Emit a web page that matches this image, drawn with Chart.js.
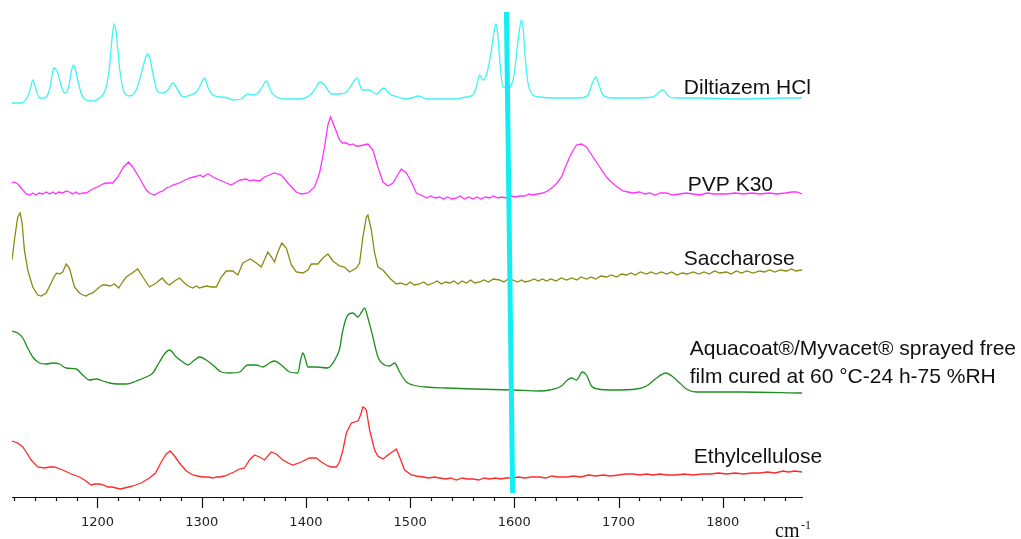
<!DOCTYPE html>
<html>
<head>
<meta charset="utf-8">
<script src="https://cdn.jsdelivr.net/npm/chart.js@4.4.1/dist/chart.umd.min.js"></script>
<style>
html, body { margin: 0; padding: 0; background: #fff; }
#wrap { position: relative; width: 1021px; height: 539px; }
</style>
</head>
<body>
<div id="wrap"><canvas id="spectra"></canvas></div>
<script>
// Stacked spectra, [wavenumber (cm-1), intensity (offset, a.u.)]
const seriesNames = ['Diltiazem HCl', 'PVP K30', 'Saccharose',
  ['Aquacoat\u00AE/Myvacet\u00AE sprayed free', 'film cured at 60 \u00B0C-24 h-75 %RH'], 'Ethylcellulose'];
const seriesColors = ['#3ff4f4', '#ff33ff', '#8a8a12', '#1e8e1e', '#ff2a2a'];
const noisy = [false, true, true, false, true];

const diltiazem = [[1118,394],[1126.8,394],[1132.8,400],[1136,410],[1137.9,417],[1139.5,413],[1141.2,407],[1144.3,399],[1149.1,399],[1153.9,407],[1156.5,422],[1158,429],[1160,428],[1161.9,424],[1165,412],[1168.3,404],[1172.4,410],[1175,426],[1177,432],[1179,427],[1181.1,417],[1184,405],[1187.5,398],[1194,396],[1201.9,399],[1208.4,410],[1211.5,430],[1213.2,450],[1215,468],[1216.3,473],[1218,464],[1219.5,448],[1221.1,430],[1225.9,404],[1230.7,401],[1237.2,407],[1242.9,427],[1246.5,440],[1248.3,443],[1250.5,438],[1253.1,424],[1257.9,405],[1262.7,404],[1267.5,407],[1272.3,414],[1277.1,407],[1281.9,400],[1286.7,401],[1294.8,405],[1297.9,410],[1302.7,419],[1305.9,410],[1310.7,402],[1318.8,400],[1325.1,399],[1329.9,397],[1338,398],[1344.3,403],[1349.1,402],[1353.9,404],[1358,410],[1362,416],[1366.8,405],[1371.6,400],[1381.2,398],[1393.9,398],[1405.2,403],[1410,410],[1413.1,415],[1417.9,412],[1424.4,403],[1432.3,403],[1438.8,405],[1445,414],[1448.9,419],[1454.1,407],[1460.4,407],[1467.6,403],[1474.8,409],[1480.3,403],[1488.3,400],[1496.4,398],[1501.2,399],[1508.4,401],[1515.6,398],[1528.3,398],[1541.1,398],[1554,400],[1560.3,402],[1563.6,410],[1566.7,422],[1569.9,417],[1573.2,422],[1576,435],[1578,447],[1580.5,465],[1582.1,473],[1583.8,465],[1585.2,447],[1587,425],[1589.1,410],[1593.9,409],[1598.7,417],[1601,432],[1602.5,447],[1605,468],[1606.8,477],[1608.5,468],[1609.9,447],[1611.5,428],[1613.1,414],[1617.9,402],[1624.3,400],[1637.1,399],[1662.7,399],[1670.7,402],[1674.9,414],[1678.1,420],[1681.2,412],[1685.1,402],[1694.7,399],[1713.9,399],[1733.1,400],[1738,404],[1742.1,407],[1749.1,400],[1755.6,399],[1778,399],[1816.3,398],[1854.7,399],[1876,399]];

const pvp = [[1118,314],[1120.3,315],[1123.5,313],[1126.8,309],[1131.6,303],[1135,302],[1137.9,304],[1141,302],[1144,304],[1147.5,303],[1151,305],[1154,303],[1157.1,305],[1160,303],[1163,305],[1166.7,304],[1170,306],[1173.1,305],[1176,303],[1179,305],[1182.7,303],[1186,304],[1189.2,304],[1195.5,308],[1201.9,311],[1205,313],[1208.4,314],[1214.7,314],[1219.5,320],[1225,330],[1229.8,335],[1233.9,330],[1240.3,319],[1246.8,307],[1250,304],[1254.7,302],[1259.5,305],[1263,306],[1266,309],[1269,310],[1272.3,312],[1276,313],[1280.4,315],[1284,317],[1288.3,319],[1292,320],[1296.3,321],[1298.5,322],[1301.1,320],[1305.9,323],[1308,322],[1310.7,320],[1317.1,317],[1323.6,314],[1328.4,312],[1333.2,315],[1337,317],[1342.8,318],[1346,316],[1349.1,317],[1355.5,316],[1360.3,320],[1365,322],[1369.9,324],[1373,323],[1376.4,322],[1382.7,314],[1390.8,305],[1395.6,303],[1401.9,304],[1408.3,310],[1413.1,324],[1417.9,350],[1421.1,372],[1423.7,380],[1427.5,370],[1432.3,357],[1435,354],[1438.8,354],[1442,352],[1445.1,353],[1448,351],[1451.5,351],[1455,352],[1459.5,353],[1464.3,347],[1469.1,330],[1473.9,315],[1478.7,311],[1483.5,314],[1488,322],[1491.6,328],[1496.4,324],[1501.2,315],[1506,304],[1512.3,301],[1516,299],[1520,301],[1524,299],[1528.3,300],[1532,298],[1536,300],[1540,298],[1544.4,299],[1548,301],[1552,298],[1556,300],[1560.3,298],[1564,300],[1568,298],[1572,300],[1576.3,299],[1580,301],[1584,299],[1588,300],[1592.4,299],[1597,301],[1601,300],[1605.1,301],[1610,301],[1614,303],[1617.9,302],[1622,303],[1627.5,304],[1632,306],[1637.1,310],[1641,314],[1645.2,320],[1649,330],[1653.1,340],[1656.5,347],[1659.6,352],[1664.4,353],[1669.2,350],[1675.5,340],[1681.9,330],[1688.4,320],[1692,316],[1696.3,312],[1700,309],[1704.3,306],[1709,305],[1713.9,304],[1720,305],[1725,303],[1729.9,304],[1735,302],[1740,304],[1745.9,304],[1752,302],[1758.7,303],[1765,304],[1771.5,303],[1778,302],[1785,304],[1792,303],[1803.5,303],[1812,304],[1820,303],[1828,304],[1835.5,303],[1845,304],[1852,303],[1860,304],[1866,305],[1870.8,305],[1876,303]];

const saccharose = [[1118,237],[1120.3,257],[1123.5,280],[1125.8,284],[1127.7,274],[1129.9,247],[1133.1,227],[1137.9,210],[1142.7,202],[1146,201],[1150.8,204],[1155.6,214],[1158.7,221],[1161,224],[1163.5,223],[1166.7,225],[1170,233],[1173.1,229],[1177.9,210],[1182.7,204],[1186,202],[1189.2,201],[1192,203],[1195.5,204],[1201.9,210],[1205,212],[1208.4,212],[1212,211],[1216.3,213],[1220.4,209],[1224,215],[1227.6,220],[1233.3,224],[1238.7,228],[1243.5,220],[1249.9,210],[1256.4,214],[1262.1,219],[1266,214],[1269.1,212],[1273.9,216],[1278.7,219],[1283.5,214],[1287,211],[1291.5,209],[1295,211],[1298,209],[1301.1,210],[1305,211],[1309.2,210],[1314,210],[1318.8,220],[1323.6,226],[1329.9,226],[1334.7,222],[1339.5,234],[1343,236],[1346.6,238],[1352.4,234],[1357.2,230],[1363.5,245],[1367.7,239],[1369.9,235],[1373.1,245],[1376.9,254],[1381.2,249],[1386,232],[1390.8,225],[1397.1,224],[1401.9,227],[1405.2,233],[1411.5,233],[1416.3,239],[1421.1,243],[1425.9,236],[1432.3,231],[1437.1,230],[1441.9,225],[1448.4,229],[1451.5,234],[1454.7,260],[1458,280],[1459.5,282],[1462.8,267],[1465.9,244],[1469.1,230],[1473.9,227],[1480.3,219],[1486.8,213],[1491,214],[1496.4,212],[1500,215],[1504,212],[1509.1,213],[1513,215],[1517,212],[1521.9,214],[1526,216],[1530,213],[1534,215],[1537.9,214],[1542,216],[1546,213],[1550,216],[1554,214],[1558,217],[1562,214],[1566.7,215],[1571,217],[1575,215],[1580,218],[1585.9,217],[1590,215],[1594,218],[1598.7,217],[1603,215],[1607,217],[1610,215],[1614.7,216],[1619,218],[1623,216],[1627,218],[1630.8,216],[1635,218],[1640,216],[1645,219],[1650,217],[1655,219],[1660,217],[1664,220],[1669.2,218],[1674,220],[1678,218],[1683,221],[1688.4,220],[1693,222],[1698,220],[1703,223],[1707.6,222],[1712,224],[1716,222],[1721,225],[1726.8,223],[1731,225],[1736,223],[1741,225],[1746,223],[1751,225],[1756,222],[1761,224],[1766,223],[1771.5,225],[1777,223],[1782,225],[1787,223],[1792,226],[1797,224],[1803.5,225],[1808,223],[1813,226],[1818,224],[1823,226],[1829,224],[1835.5,226],[1840,225],[1845,227],[1850,225],[1855,227],[1861.2,226],[1866,228],[1870,226],[1876,227]];

const aquacoat = [[1118,166],[1123.5,164],[1128.3,159],[1133.1,149],[1137.9,140],[1144.3,134],[1150.8,133],[1157.1,134],[1163.5,133],[1170,129],[1179.6,128],[1185.9,122],[1192.3,117],[1198.8,118],[1205.1,116],[1211.5,114],[1219.5,113],[1227.6,113],[1237.2,116],[1246.8,120],[1253.1,124],[1259.5,135],[1265,144],[1269.1,147],[1275.6,140],[1281.9,135],[1286.7,132],[1293.1,137],[1297.9,140],[1304.4,137],[1310.7,132],[1318.8,125],[1326.7,124],[1336.3,125],[1344.3,132],[1352.4,132],[1358.7,130],[1365.1,134],[1369.9,136],[1376.4,132],[1384.3,125],[1392.3,124],[1394.9,137],[1397.1,144],[1399.7,137],[1401.9,130],[1409.9,130],[1421.1,129],[1425.9,134],[1429.2,140],[1432.3,148],[1435.5,167],[1440.3,182],[1445.1,184],[1449.9,180],[1453.5,185],[1456.3,189],[1459.5,179],[1464.3,160],[1469.1,140],[1475.5,132],[1480.3,131],[1485.1,134],[1489.9,125],[1496.4,115],[1502.7,112],[1515.6,110],[1534.8,109],[1560.3,108],[1598.7,107],[1624.3,106],[1633.9,107],[1645.2,111],[1650,116],[1654.8,119],[1659.6,117],[1665.3,125],[1669.2,122],[1674,111],[1680.3,108],[1694.7,107],[1717.1,108],[1726.8,111],[1736.4,119],[1745.3,124],[1752.3,120],[1758.7,114],[1765.1,108],[1774.7,105],[1816.3,105],[1876,104]];

const ethylcellulose = [[1118,56],[1123.5,54],[1128.3,50],[1131.6,45],[1136.4,37],[1142.7,30],[1149.1,29],[1154,30],[1158.7,30],[1166.7,27],[1174.8,23],[1182.7,20],[1187.5,17],[1194,12],[1198,13],[1201.9,13],[1206,12],[1209.9,10],[1214,10],[1217.9,9],[1222,8],[1225.9,9],[1230,10],[1233.9,11],[1241.9,14],[1249.9,19],[1255.7,24],[1261.2,35],[1266,43],[1269.8,46],[1273.9,41],[1278.7,34],[1285.2,26],[1291.5,22],[1296,21],[1301.1,20],[1306,20],[1310.7,19],[1314,20],[1317.1,20],[1322,21],[1326.7,23],[1331,25],[1336.3,28],[1341.1,29],[1345.9,37],[1350.7,42],[1355.5,40],[1360.3,37],[1366.8,45],[1371.6,43],[1377.9,37],[1383,34],[1387.5,32],[1395.6,35],[1403.5,39],[1409.9,39],[1414.8,35],[1421.1,31],[1425,30],[1429.2,30],[1432.3,35],[1435.5,47],[1438.8,64],[1443.6,74],[1449.9,76],[1452.5,82],[1454.7,90],[1456.5,89],[1458,87],[1461.1,67],[1465.9,47],[1469,41],[1473.9,38],[1478.7,42],[1486.8,48],[1489.9,40],[1494.7,27],[1501.2,22],[1506,21],[1512.3,20],[1518,19],[1523,20],[1528.3,19],[1534,18],[1539,19],[1544.4,17],[1550,19],[1555,18],[1560.3,18],[1566,17],[1571,19],[1576.3,18],[1582,19],[1587,18],[1592,19],[1598.7,19],[1604,20],[1610,19],[1616,20],[1624.3,20],[1630,19],[1636,21],[1642,20],[1650,20],[1657,21],[1664,20],[1671,22],[1678,21],[1685.1,22],[1692,21],[1700,22],[1707,23],[1713.9,23],[1720,22],[1727,23],[1733,22],[1739.5,23],[1747,22],[1755,22],[1763,23],[1771.5,22],[1780,23],[1788,23],[1796,24],[1803.5,23],[1812,24],[1820,23],[1828,24],[1835.5,24],[1843,25],[1850,24],[1857.9,26],[1863,25],[1869,26],[1876,25]];

// slanted marker line near 1600 cm-1
const marker = [[1592.4,485],[1598.4,4]];

const spectra = [diltiazem, pvp, saccharose, aquacoat, ethylcellulose];
const toXY = arr => arr.map(p => ({ x: p[0], y: p[1] }));

const datasets = spectra.map((s, i) => {
    const ds = {
        label: Array.isArray(seriesNames[i]) ? seriesNames[i].join(' ') : seriesNames[i],
        data: toXY(s),
        borderColor: seriesColors[i],
        borderWidth: 1.3,
        pointRadius: 0,
        tension: 0,
        order: 1
    };
    if (!noisy[i]) ds.cubicInterpolationMode = 'monotone'; // smooth peaks
    return ds;
});
datasets.unshift({
    label: 'marker',
    data: toXY(marker),
    borderColor: '#12eef2',
    borderWidth: 5,
    pointRadius: 0,
    order: -1
});

// minor/major tick marks, series names, axis unit
const decorPlugin = {
    id: 'decor',
    afterDraw(chart) {
        const ctx = chart.ctx;
        const xs = chart.scales.x;
        const ys = chart.scales.y;
        ctx.save();
        ctx.strokeStyle = '#111';
        ctx.lineWidth = 1.2;
        xs.ticks.forEach(t => {
            const px = Math.round(xs.getPixelForValue(t.value)) + 0.5;
            const len = t.value % 100 === 0 ? 11 : 4;
            ctx.beginPath();
            ctx.moveTo(px, xs.top);
            ctx.lineTo(px, xs.top + len);
            ctx.stroke();
        });

        // series names
        const anchors = [[1762.6, 403], [1766.4, 306], [1762.6, 232], [1768.3, 142], [1772.2, 34]];
        ctx.fillStyle = '#111';
        ctx.font = '21px "Liberation Sans", Arial, sans-serif';
        ctx.textBaseline = 'alphabetic';
        ctx.textAlign = 'left';
        seriesNames.forEach((name, i) => {
            const x = xs.getPixelForValue(anchors[i][0]);
            const y = ys.getPixelForValue(anchors[i][1]);
            const lines = Array.isArray(name) ? name : [name];
            lines.forEach((ln, k) => ctx.fillText(ln, x, y + k * 28));
        });

        // unit
        ctx.font = '20px "Liberation Serif", "Times New Roman", serif';
        ctx.fillText('cm', xs.right - 27, xs.bottom - 2);
        ctx.font = '12px "Liberation Serif", "Times New Roman", serif';
        ctx.fillText('-1', xs.right - 1, xs.bottom - 10);
        ctx.restore();
    }
};

new Chart(document.getElementById('spectra'), {
    type: 'line',
    data: { datasets: datasets },
    options: {
        responsive: true,
        maintainAspectRatio: false,
        animation: false,
        devicePixelRatio: 1,
        layout: { padding: { left: 12, right: 219, top: 0, bottom: 0 } },
        plugins: {
            legend: { display: false },
            tooltip: { enabled: false }
        },
        scales: {
            x: {
                type: 'linear',
                min: 1118,
                max: 1876,
                // invisible tick marks only push the labels down; real ticks drawn by decorPlugin
                grid: { display: true, drawOnChartArea: false, drawTicks: true, tickLength: 18, tickColor: 'rgba(0,0,0,0)' },
                border: { display: true, color: '#111', width: 1 },
                ticks: {
                    stepSize: 20,
                    includeBounds: false,
                    autoSkip: false,
                    maxRotation: 0,
                    padding: 0,
                    color: '#222',
                    font: { family: 'DejaVu Sans', size: 13 },
                    callback: v => (v % 100 === 0 ? String(v) : '')
                },
                afterFit: s => { s.height = 42; }
            },
            y: {
                display: false,
                min: 0,
                max: 497
            }
        }
    },
    plugins: [decorPlugin]
});
</script>
</body>
</html>
